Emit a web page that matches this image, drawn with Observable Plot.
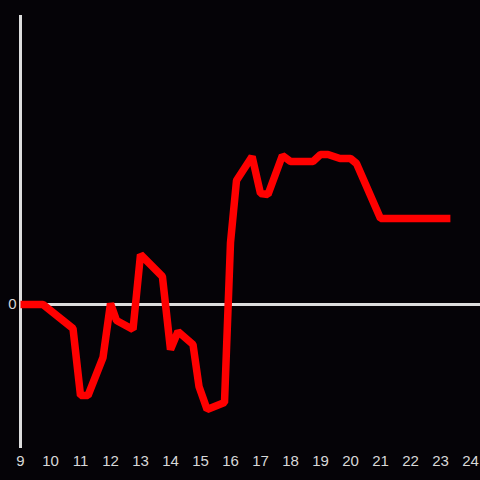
<!DOCTYPE html>
<html>
<head>
<meta charset="utf-8">
<script src="https://cdn.jsdelivr.net/npm/d3@7"></script>
<script src="https://cdn.jsdelivr.net/npm/@observablehq/plot@0.6"></script>
<style>
  html, body { margin: 0; padding: 0; background: #050307; }
  #chart { width: 480px; height: 480px; }
  #chart svg text { font-size: 15px !important; font-family: 'Liberation Sans', Arial, sans-serif !important; fill: #d8d8d8; }
</style>
</head>
<body>
<div id="chart"></div>
<script>
const hours = [9.0, 9.75, 10.75, 11.0, 11.25, 11.75, 12.0, 12.2, 12.75, 13.0, 13.73, 14.0, 14.25, 14.75, 14.95, 15.22, 15.8, 16.0, 16.2, 16.72, 17.0, 17.25, 17.73, 18.0, 18.75, 19.0, 19.25, 19.65, 20.0, 20.2, 21.0, 23.33];
const values = [0.0, 0.0, -0.24, -0.91, -0.91, -0.53, 0.01, -0.16, -0.25, 0.50, 0.28, -0.45, -0.27, -0.40, -0.82, -1.05, -0.98, 0.62, 1.24, 1.48, 1.11, 1.10, 1.49, 1.43, 1.43, 1.50, 1.50, 1.46, 1.46, 1.41, 0.86, 0.86];
const xTicks = [9, 10, 11, 12, 13, 14, 15, 16, 17, 18, 19, 20, 21, 22, 23, 24];
const yTicks = [0];

const data = hours.map((h, i) => ({hour: h, value: values[i]}));

const chart = Plot.plot({
  width: 480,
  height: 480,
  marginLeft: 20,
  marginRight: 0,
  marginTop: 15,
  marginBottom: 32,
  style: "background:#050307; color:#d8d8d8; font:15px 'Liberation Sans', Arial, sans-serif;",
  x: {domain: [9, 24 + 1/3], ticks: xTicks, tickSize: 0, tickPadding: 7, label: null, tickFormat: d => String(d)},
  y: {domain: [-1.44, 2.89], ticks: yTicks, tickSize: 0, tickPadding: 4, label: null, tickFormat: d => String(d)},
  marks: [
    Plot.ruleX([9], {stroke: "#dddddd", strokeWidth: 3}),
    Plot.ruleY([0], {stroke: "#dddddd", strokeWidth: 3}),
    Plot.line(data, {x: "hour", y: "value", stroke: "#ff0000", strokeWidth: 7.5, strokeLinejoin: "miter", strokeLinecap: "butt", curve: "linear"})
  ]
});
document.getElementById("chart").appendChild(chart);
</script>
</body>
</html>
